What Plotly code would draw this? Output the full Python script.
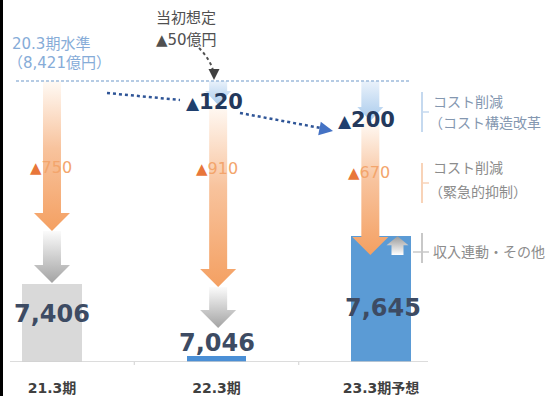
import plotly.graph_objects as go

# ---- data (億円) ----
CATEGORIES = ["21.3期", "22.3期", "23.3期予想"]
BASE_LEVEL = 8421                 # 20.3期水準
TOTALS = [7406, 7046, 7645]       # 各期の実績・予想
STRUCTURAL_CUTS = [0, 120, 200]   # コスト削減（コスト構造改革）
EMERGENCY_CUTS = [750, 910, 670]  # コスト削減（緊急的抑制）
OTHER_CHANGES = [-265, -345, 94]  # 収入連動・その他
INITIAL_PLAN = 50                 # 当初想定

# ---- page geometry ----
W, H = 550, 396
PLOT_H = 362
Y_MIN = 7016
UNITS_PER_PX = 5.0
Y_MAX = Y_MIN + PLOT_H * UNITS_PER_PX
X_MIN, X_MAX = -0.316, 3.027
XPX = W / (X_MAX - X_MIN)

FONT = "DejaVu Sans, Noto Sans CJK JP, sans-serif"
NAVY = "#3d4b63"


def fx(p):
    return p / W


def fy(p):
    return (PLOT_H - p) / PLOT_H


def dx(p):
    return p / XPX


def dy(p):
    return p * UNITS_PER_PX


ORANGE = [[0, "#fffaf5"], [0.45, "#f8c39d"], [1, "#f4a062"]]
GRAY = [[0, "#fbfbfb"], [1, "#a3a3a3"]]
BLUE = [[0, "#eaf2fb"], [1, "#a8caec"]]


def arrow(x, v_from, v_to, colors, shaft=18, head_w=36, head_len=18, end_pad=0):
    d = 1 if v_to > v_from else -1
    tip = v_to - d * dy(end_pad)
    neck = tip - d * dy(head_len)
    s, h = dx(shaft) / 2, dx(head_w) / 2
    xs = [x - s, x + s, x + s, x + h, x, x - h, x - s, x - s]
    ys = [v_from, v_from, neck, neck, tip, neck, neck, v_from]
    return go.Scatter(
        x=xs, y=ys, mode="lines", fill="toself", line=dict(width=0),
        fillgradient=dict(type="vertical", colorscale=colors, start=v_from, stop=tip),
        hoverinfo="skip", showlegend=False,
    )


fig = go.Figure()

# bars
fig.add_trace(go.Bar(
    x=[0, 1, 2], y=TOTALS, width=0.36,
    marker=dict(color=["#d9d9d9", "#4a8fd6", "#5b9bd5"], line=dict(width=0)),
    hoverinfo="skip", showlegend=False,
))

# step arrows per period
SHIFT = [0.0, 0.01, -0.065]
TOTAL_PAD = [1, 28, 0]
for i in range(3):
    x = i + SHIFT[i]
    level = BASE_LEVEL
    if STRUCTURAL_CUTS[i]:
        fig.add_trace(arrow(x, level, level - STRUCTURAL_CUTS[i], BLUE,
                            shaft=18, head_w=26, head_len=14))
        level -= STRUCTURAL_CUTS[i]
    after_emerg = level - EMERGENCY_CUTS[i]
    if OTHER_CHANGES[i] < 0:
        fig.add_trace(arrow(x, after_emerg, after_emerg + OTHER_CHANGES[i], GRAY,
                            end_pad=TOTAL_PAD[i]))
    else:
        fig.add_trace(arrow(i + 0.1, after_emerg, after_emerg + OTHER_CHANGES[i],
                            [[0, "#ffffff"], [1, "#9a9a9a"]],
                            shaft=12, head_w=22, head_len=9))
    fig.add_trace(arrow(x, level, after_emerg, ORANGE))

shapes = []
# baseline and small ticks
shapes.append(dict(type="line", xref="x", yref="y", x0=X_MIN + dx(10), x1=X_MIN + dx(428),
                   y0=Y_MIN, y1=Y_MIN, line=dict(color="#d0d0d0", width=1.5)))
for t in (0.5, 1.5):
    shapes.append(dict(type="line", xref="x", yref="paper", x0=t, x1=t,
                       y0=0, y1=fy(365), line=dict(color="#d0d0d0", width=1)))
# 20.3期水準 line
shapes.append(dict(type="line", xref="x", yref="y", x0=X_MIN + dx(16), x1=X_MIN + dx(410),
                   y0=BASE_LEVEL, y1=BASE_LEVEL,
                   line=dict(color="#9dbbdc", width=1.4, dash="3px,2px")))
# 当初想定 pointer
shapes.append(dict(type="path", xref="paper", yref="paper",
                   path=f"M {fx(199)},{fy(48)} Q {fx(211)},{fy(60)} {fx(214)},{fy(74)}",
                   line=dict(color="#505050", width=2, dash="dot")))
# trend dotted line
shapes.append(dict(type="line", xref="paper", yref="paper", x0=fx(107), y0=fy(93),
                   x1=fx(180), y1=fy(100), line=dict(color="#2f5597", width=2.5, dash="dot")))
shapes.append(dict(type="line", xref="paper", yref="paper", x0=fx(240), y0=fy(113),
                   x1=fx(326), y1=fy(129), line=dict(color="#2f5597", width=2.5, dash="dot")))
# right-hand brackets
for (top, bot, mid, col, t0) in [(92, 132, 112, "#c5d9ef", 422),
                                 (163, 203, 183, "#f8d3b8", 422),
                                 (233, 263, 252, "#c8c8c8", 413)]:
    shapes.append(dict(type="line", xref="paper", yref="paper", x0=fx(422), x1=fx(422),
                       y0=fy(top), y1=fy(bot), line=dict(color=col, width=2)))
    shapes.append(dict(type="line", xref="paper", yref="paper", x0=fx(t0), x1=fx(429),
                       y0=fy(mid), y1=fy(mid), line=dict(color=col, width=1.5)))
# left frame edge
shapes.append(dict(type="line", xref="paper", yref="paper", x0=fx(1.5), x1=fx(1.5),
                   y0=fy(H), y1=1, line=dict(color="#000000", width=3)))

ann = []


def text(x, y, s, size, color, anchor="center", bold=False):
    ann.append(dict(xref="paper", yref="paper", x=fx(x), y=fy(y), text=s, showarrow=False,
                    xanchor=anchor, yanchor="middle",
                    font=dict(family=FONT, size=size, color=color,
                              weight="bold" if bold else "normal")))


def tri(color, size):
    return f'<span style="color:{color};font-size:{size}px">▲</span>'


text(10, 44, "20.3期水準", 15, "#86acd8", "left")
text(6, 63, f"（{BASE_LEVEL:,}億円）", 15, "#86acd8", "left")
text(186, 18, "当初想定", 15, "#505050")
text(186, 40, f"▲{INITIAL_PLAN}億円", 15, "#505050")

text(214, 102, f"{tri('#1f3f6e', 17)}{STRUCTURAL_CUTS[1]}", 21, "#24395c", bold=True)
text(366, 120, f"{tri('#1f3f6e', 17)}{STRUCTURAL_CUTS[2]}", 21, "#24395c", bold=True)

for (cx, cy, v) in [(51, 167, EMERGENCY_CUTS[0]), (217, 168, EMERGENCY_CUTS[1]),
                    (369, 173, EMERGENCY_CUTS[2])]:
    text(cx, cy, f"{tri('#e8763a', 15)}{v}", 16, "#f3a56c")

for (cx, cy, v) in [(52, 314, TOTALS[0]), (217, 343, TOTALS[1]), (383, 308, TOTALS[2])]:
    text(cx, cy, f"{v:,}", 24, NAVY, bold=True)

text(431, 102, "コスト削減", 14, "#8497b0", "left")
text(427, 123, "（コスト構造改革", 14, "#8497b0", "left")
text(431, 168, "コスト削減", 14, "#8c8c8c", "left")
text(427, 192, "（緊急的抑制）", 14, "#8c8c8c", "left")
text(431, 252, "収入連動・その他", 14, "#8c8c8c", "left")

# arrow heads for the dotted pointers
ann.append(dict(xref="paper", yref="paper", x=fx(333), y=fy(131), ax=-13, ay=-2.5,
                text="", showarrow=True, arrowhead=2, arrowsize=1.1, arrowwidth=2.5,
                arrowcolor="#4472c4"))
ann.append(dict(xref="paper", yref="paper", x=fx(214), y=fy(80), ax=0, ay=-8,
                text="", showarrow=True, arrowhead=2, arrowsize=1.1, arrowwidth=2,
                arrowcolor="#404040"))

fig.update_layout(
    width=W, height=H,
    margin=dict(l=0, r=0, t=0, b=H - PLOT_H),
    paper_bgcolor="white", plot_bgcolor="white",
    xaxis=dict(range=[X_MIN, X_MAX], showgrid=False, zeroline=False, showline=False,
               tickvals=[0, 1, 2], ticktext=CATEGORIES, ticks="", ticklabelstandoff=16,
               tickfont=dict(family=FONT, size=14, color="#404040", weight="bold"),
               fixedrange=True),
    yaxis=dict(range=[Y_MIN, Y_MAX], visible=False, fixedrange=True),
    shapes=shapes, annotations=ann, showlegend=False,
    bargap=0,
)

fig.write_html("out.html")
